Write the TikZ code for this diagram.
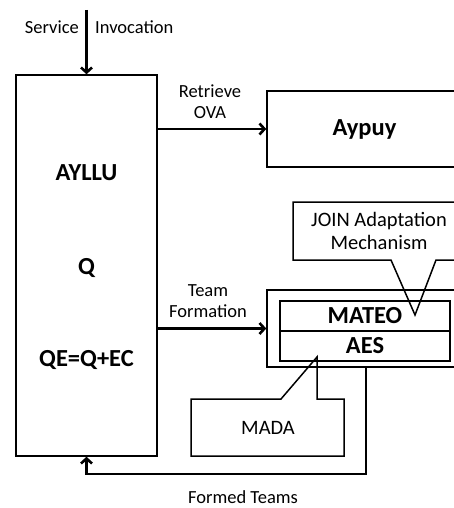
\documentclass[tikz,border=0pt]{standalone}
\usepackage{fontspec}
\setmainfont{Carlito}
\usetikzlibrary{arrows.meta}

\begin{document}
\begin{tikzpicture}[x=1pt,y=-1pt,
    box/.style={draw,line width=1.5pt,inner sep=0pt},
    flow/.style={line width=2.6pt,-{Straight Barb[length=5pt,width=11pt]}},
    lbl/.style={font=\fontsize{18.5}{21}\selectfont,align=center,inner sep=0pt},
    note/.style={font=\fontsize{20.5}{23}\selectfont,align=center,inner sep=0pt},
    big/.style={font=\fontsize{24.5}{28}\selectfont\bfseries,inner sep=0pt}]
  \path[use as bounding box] (0,0) rectangle (454,508);
  \clip (0,0) rectangle (454,508);
  % main blocks
  \node[box,minimum width=141pt,minimum height=381pt] (ayllu) at (86.5,265.5) {};
  \node[box,minimum width=195pt,minimum height=76pt] (aypuy) at (364.5,129) {};
  \node[big] (aypuytxt) at (aypuy) {Aypuy};
  \node[box,minimum width=195pt,minimum height=77pt] (mas) at (364.5,328.5) {};
  \node[box,big,minimum width=170pt,minimum height=30pt] (mateo) at (365,316) {MATEO};
  \node[box,big,minimum width=170pt,minimum height=30pt] (aes) at (365,346) {AES};
  % texts of the AYLLU block
  \foreach \n/\t/\y in {ayl/AYLLU/173, q/Q/268, qe/QE=Q+EC/360}
    \node[big] (\n) at (86.5,\y) {\t};
  % callouts
  \draw[line width=1.5pt] (470,202) -- (293,202) -- (293,260) -- (391,260)
    -- (415,315) -- (436,260) -- (470,260);
  \node[note] (join) at (379,231) {JOIN Adaptation\\Mechanism};
  \draw[line width=1.5pt] (191,399) -- (281,399) -- (317,357) -- (317,399)
    -- (344,399) -- (344,456) -- (191,456) -- cycle;
  \node[note] (mada) at (268,428) {MADA};
  % connectors
  \coordinate (sinv) at (86.5,10);
  \draw[flow] (sinv) -- (ayllu.north);
  \node[lbl,anchor=east] (serv) at (79,27) {Service};
  \node[lbl,anchor=west] (invo) at (95,27) {Invocation};
  \draw[flow] (aypuy.west -| ayllu.east) -- (aypuy.west);
  \node[lbl] (ova) at (210,102) {Retrieve\\OVA};
  \draw[flow] (mas.west -| ayllu.east) -- (mas.west);
  \node[lbl] (team) at (208,301) {Team\\Formation};
  \coordinate (ft) at (366,474);
  \draw[flow] (ft |- mas.south) -- (ft) -| (ayllu.south);
  \node[lbl] (formed) at (243,497) {Formed Teams};
\end{tikzpicture}
\end{document}
